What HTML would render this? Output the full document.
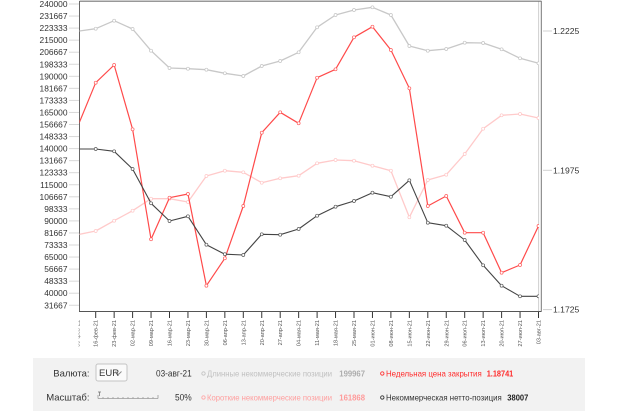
<!DOCTYPE html>
<html><head><meta charset="utf-8"><style>
html,body{margin:0;padding:0;background:#fff;}
svg{display:block;font-family:"Liberation Sans",Arial,sans-serif;}
</style></head><body>
<svg width="620" height="411" viewBox="0 0 620 411" xmlns="http://www.w3.org/2000/svg">
<defs>
<clipPath id="pc"><rect x="79.5" y="1" width="459.5" height="310"/></clipPath>
<clipPath id="lc"><rect x="78.6" y="312" width="470" height="40"/></clipPath>
<marker id="mg" markerUnits="userSpaceOnUse" markerWidth="6" markerHeight="6" refX="3" refY="3"><circle cx="3" cy="3" r="1.5" fill="#fff" stroke="#c4c4c4" stroke-width="0.7"/></marker>
<marker id="mp" markerUnits="userSpaceOnUse" markerWidth="6" markerHeight="6" refX="3" refY="3"><circle cx="3" cy="3" r="1.5" fill="#fff" stroke="#ffc6c6" stroke-width="0.7"/></marker>
<marker id="mr" markerUnits="userSpaceOnUse" markerWidth="6" markerHeight="6" refX="3" refY="3"><circle cx="3" cy="3" r="1.5" fill="#fff" stroke="#ff5a5a" stroke-width="0.7"/></marker>
<marker id="mb" markerUnits="userSpaceOnUse" markerWidth="6" markerHeight="6" refX="3" refY="3"><circle cx="3" cy="3" r="1.5" fill="#fff" stroke="#555" stroke-width="0.7"/></marker>
</defs>

<!-- left axis ticks and labels -->
<g stroke="#d8d8d8" stroke-width="1">
<line x1="69" y1="4" x2="79" y2="4"/><line x1="69" y1="16.05" x2="79" y2="16.05"/><line x1="69" y1="28.1" x2="79" y2="28.1"/><line x1="69" y1="40.15" x2="79" y2="40.15"/><line x1="69" y1="52.2" x2="79" y2="52.2"/><line x1="69" y1="64.25" x2="79" y2="64.25"/><line x1="69" y1="76.3" x2="79" y2="76.3"/><line x1="69" y1="88.35" x2="79" y2="88.35"/><line x1="69" y1="100.4" x2="79" y2="100.4"/><line x1="69" y1="112.45" x2="79" y2="112.45"/><line x1="69" y1="124.5" x2="79" y2="124.5"/><line x1="69" y1="136.55" x2="79" y2="136.55"/><line x1="69" y1="148.6" x2="79" y2="148.6"/><line x1="69" y1="160.65" x2="79" y2="160.65"/><line x1="69" y1="172.7" x2="79" y2="172.7"/><line x1="69" y1="184.75" x2="79" y2="184.75"/><line x1="69" y1="196.8" x2="79" y2="196.8"/><line x1="69" y1="208.85" x2="79" y2="208.85"/><line x1="69" y1="220.9" x2="79" y2="220.9"/><line x1="69" y1="232.95" x2="79" y2="232.95"/><line x1="69" y1="245" x2="79" y2="245"/><line x1="69" y1="257.05" x2="79" y2="257.05"/><line x1="69" y1="269.1" x2="79" y2="269.1"/><line x1="69" y1="281.15" x2="79" y2="281.15"/><line x1="69" y1="293.2" x2="79" y2="293.2"/><line x1="69" y1="305.25" x2="79" y2="305.25"/>
</g>
<g font-size="8.4" fill="#333" text-anchor="end">
<text x="67.5" y="7">240000</text><text x="67.5" y="19.05">231667</text><text x="67.5" y="31.1">223333</text><text x="67.5" y="43.15">215000</text><text x="67.5" y="55.2">206667</text><text x="67.5" y="67.25">198333</text><text x="67.5" y="79.3">190000</text><text x="67.5" y="91.35">181667</text><text x="67.5" y="103.4">173333</text><text x="67.5" y="115.45">165000</text><text x="67.5" y="127.5">156667</text><text x="67.5" y="139.55">148333</text><text x="67.5" y="151.6">140000</text><text x="67.5" y="163.65">131667</text><text x="67.5" y="175.7">123333</text><text x="67.5" y="187.75">115000</text><text x="67.5" y="199.8">106667</text><text x="67.5" y="211.85">98333</text><text x="67.5" y="223.9">90000</text><text x="67.5" y="235.95">81667</text><text x="67.5" y="248">73333</text><text x="67.5" y="260.05">65000</text><text x="67.5" y="272.1">56667</text><text x="67.5" y="284.15">48333</text><text x="67.5" y="296.2">40000</text><text x="67.5" y="308.25">31667</text>
</g>

<!-- right axis -->
<g stroke="#d0d0d0" stroke-width="1">
<line x1="543" y1="31" x2="552" y2="31"/><line x1="543" y1="170.3" x2="552" y2="170.3"/><line x1="543" y1="309.6" x2="552" y2="309.6"/>
</g>
<g font-size="8.6" fill="#333">
<text x="553" y="34">1.2225</text><text x="553" y="173.3">1.1975</text><text x="553" y="312.6">1.1725</text>
</g>

<!-- frame -->
<line x1="538.6" y1="1" x2="538.6" y2="311" stroke="#d0d0d0" stroke-width="1"/>
<line x1="79.5" y1="1.2" x2="541.5" y2="1.2" stroke="#777" stroke-width="1.2"/>
<line x1="79.5" y1="1" x2="79.5" y2="311.5" stroke="#666" stroke-width="1"/>
<line x1="541.3" y1="1" x2="541.3" y2="311.5" stroke="#777" stroke-width="1"/>
<line x1="79" y1="311.5" x2="541.5" y2="311.5" stroke="#555" stroke-width="1"/>

<!-- series -->
<g clip-path="url(#pc)" fill="none" stroke-linejoin="round">
<polyline stroke="#c8c8c8" stroke-width="1.3" marker-mid="url(#mg)" marker-end="url(#mg)" points="77.25,31.3 95.7,28.7 114.15,20.7 132.6,29 151.05,50.7 169.5,68 187.95,68.7 206.4,69.7 224.85,73.3 243.3,76 261.75,66 280.2,61 298.65,52.3 317.1,27.3 335.55,15 354,10 372.45,7.3 390.9,15 409.35,46 427.8,50.7 446.25,49 464.7,42.7 483.15,43 501.6,49.3 520.05,58.3 538.5,63.3"/>
<polyline stroke="#ffcaca" stroke-width="1.3" marker-mid="url(#mp)" marker-end="url(#mp)" points="77.25,234.8 95.7,231 114.15,220.7 132.6,210.7 151.05,198.7 169.5,198.7 187.95,202 206.4,176 224.85,170.7 243.3,172.3 261.75,182.7 280.2,178.3 298.65,175.7 317.1,163.3 335.55,160 354,160.7 372.45,165.7 390.9,170.7 409.35,217.3 427.8,180 446.25,174.7 464.7,154 483.15,128.7 501.6,115.3 520.05,114 538.5,118"/>
<polyline stroke="#ff4a4a" stroke-width="1.2" marker-mid="url(#mr)" marker-end="url(#mr)" points="77.25,127.5 95.7,82.7 114.15,65 132.6,129.3 151.05,239.3 169.5,197.7 187.95,194 206.4,285.7 224.85,258.3 243.3,206 261.75,132.7 280.2,112.3 298.65,123.3 317.1,77.7 335.55,69.3 354,37.3 372.45,26.7 390.9,50 409.35,88.3 427.8,206 446.25,196 464.7,232.7 483.15,232.7 501.6,272.7 520.05,265 538.5,226"/>
<polyline stroke="#444" stroke-width="1.1" marker-mid="url(#mb)" marker-end="url(#mb)" points="77.25,149 95.7,149 114.15,151.3 132.6,169 151.05,203.3 169.5,221 187.95,216.3 206.4,244.7 224.85,254.2 243.3,255 261.75,234.3 280.2,234.7 298.65,229 317.1,215.7 335.55,206.7 354,201 372.45,192.7 390.9,196.7 409.35,180.3 427.8,222.7 446.25,225.7 464.7,240 483.15,265.3 501.6,285.7 520.05,296.3 538.5,296.3"/>
</g>

<!-- x ticks -->
<g stroke="#333" stroke-width="1">
<line x1="95.7" y1="312" x2="95.7" y2="318"/><line x1="114.15" y1="312" x2="114.15" y2="318"/><line x1="132.6" y1="312" x2="132.6" y2="318"/><line x1="151.05" y1="312" x2="151.05" y2="318"/><line x1="169.5" y1="312" x2="169.5" y2="318"/><line x1="187.95" y1="312" x2="187.95" y2="318"/><line x1="206.4" y1="312" x2="206.4" y2="318"/><line x1="224.85" y1="312" x2="224.85" y2="318"/><line x1="243.3" y1="312" x2="243.3" y2="318"/><line x1="261.75" y1="312" x2="261.75" y2="318"/><line x1="280.2" y1="312" x2="280.2" y2="318"/><line x1="298.65" y1="312" x2="298.65" y2="318"/><line x1="317.1" y1="312" x2="317.1" y2="318"/><line x1="335.55" y1="312" x2="335.55" y2="318"/><line x1="354" y1="312" x2="354" y2="318"/><line x1="372.45" y1="312" x2="372.45" y2="318"/><line x1="390.9" y1="312" x2="390.9" y2="318"/><line x1="409.35" y1="312" x2="409.35" y2="318"/><line x1="427.8" y1="312" x2="427.8" y2="318"/><line x1="446.25" y1="312" x2="446.25" y2="318"/><line x1="464.7" y1="312" x2="464.7" y2="318"/><line x1="483.15" y1="312" x2="483.15" y2="318"/><line x1="501.6" y1="312" x2="501.6" y2="318"/><line x1="520.05" y1="312" x2="520.05" y2="318"/><line x1="538.5" y1="312" x2="538.5" y2="318"/>
</g>
<g font-size="5.6" fill="#555" text-anchor="end" clip-path="url(#lc)">
<text transform="translate(79.25,320) rotate(-90)">09-фев-21</text>
<text transform="translate(97.7,320) rotate(-90)">16-фев-21</text>
<text transform="translate(116.15,320) rotate(-90)">23-фев-21</text>
<text transform="translate(134.6,320) rotate(-90)">02-мар-21</text>
<text transform="translate(153.05,320) rotate(-90)">09-мар-21</text>
<text transform="translate(171.5,320) rotate(-90)">16-мар-21</text>
<text transform="translate(189.95,320) rotate(-90)">23-мар-21</text>
<text transform="translate(208.4,320) rotate(-90)">30-мар-21</text>
<text transform="translate(226.85,320) rotate(-90)">06-апр-21</text>
<text transform="translate(245.3,320) rotate(-90)">13-апр-21</text>
<text transform="translate(263.75,320) rotate(-90)">20-апр-21</text>
<text transform="translate(282.2,320) rotate(-90)">27-апр-21</text>
<text transform="translate(300.65,320) rotate(-90)">04-мая-21</text>
<text transform="translate(319.1,320) rotate(-90)">11-мая-21</text>
<text transform="translate(337.55,320) rotate(-90)">18-мая-21</text>
<text transform="translate(356,320) rotate(-90)">25-мая-21</text>
<text transform="translate(374.45,320) rotate(-90)">01-июн-21</text>
<text transform="translate(392.9,320) rotate(-90)">08-июн-21</text>
<text transform="translate(411.35,320) rotate(-90)">15-июн-21</text>
<text transform="translate(429.8,320) rotate(-90)">22-июн-21</text>
<text transform="translate(448.25,320) rotate(-90)">29-июн-21</text>
<text transform="translate(466.7,320) rotate(-90)">06-июл-21</text>
<text transform="translate(485.15,320) rotate(-90)">13-июл-21</text>
<text transform="translate(503.6,320) rotate(-90)">20-июл-21</text>
<text transform="translate(522.05,320) rotate(-90)">27-июл-21</text>
<text transform="translate(540.5,320) rotate(-90)">03-авг-21</text>
</g>

<!-- bottom panel -->
<rect x="33" y="358" width="552" height="53" fill="#f2f2f2"/>
<g font-size="9.5" fill="#333">
<text x="89.5" y="376.5" text-anchor="end">Валюта:</text>
<text x="89.5" y="400.5" text-anchor="end">Масштаб:</text>
</g>
<rect x="96" y="364" width="31" height="17" rx="2" fill="#fafafa" stroke="#c4c4c4" stroke-width="1"/>
<text x="99" y="376.2" font-size="9.5" fill="#333">EUR</text>
<polyline points="115.5,371.5 118.5,374.5 121.5,371.5" fill="none" stroke="#888" stroke-width="0.9"/>
<text x="156" y="376.5" font-size="9.5" fill="#333" textLength="35.7" lengthAdjust="spacingAndGlyphs">03-авг-21</text>

<!-- slider -->
<g stroke="#999" stroke-width="0.8" fill="none">
<line x1="98" y1="398.5" x2="158" y2="398.5"/>
<line x1="98" y1="395" x2="98" y2="398.5"/><line x1="158" y1="395" x2="158" y2="398.5"/>
<line x1="103" y1="397" x2="103" y2="398.5"/><line x1="108" y1="397" x2="108" y2="398.5"/><line x1="113" y1="397" x2="113" y2="398.5"/><line x1="118" y1="397" x2="118" y2="398.5"/><line x1="123" y1="397" x2="123" y2="398.5"/><line x1="128" y1="397" x2="128" y2="398.5"/><line x1="133" y1="397" x2="133" y2="398.5"/><line x1="138" y1="397" x2="138" y2="398.5"/><line x1="143" y1="397" x2="143" y2="398.5"/><line x1="148" y1="397" x2="148" y2="398.5"/><line x1="153" y1="397" x2="153" y2="398.5"/>
<line x1="99.5" y1="392" x2="99.5" y2="396" stroke="#777"/><line x1="98" y1="392" x2="101" y2="392" stroke="#777"/>
</g>
<text x="175" y="400.5" font-size="9.5" fill="#333" textLength="16.7" lengthAdjust="spacingAndGlyphs">50%</text>

<!-- legend -->
<circle cx="203.5" cy="373.5" r="1.7" fill="none" stroke="#c4c4c4" stroke-width="0.9"/>
<text x="207" y="376.3" font-size="8.2" fill="#c0c0c0" textLength="125" lengthAdjust="spacingAndGlyphs">Длинные некоммерческие позиции</text>
<text x="339.3" y="376.3" font-size="8.2" font-weight="bold" fill="#adadad" textLength="25.7" lengthAdjust="spacingAndGlyphs">199967</text>

<circle cx="203.5" cy="397.5" r="1.7" fill="none" stroke="#ffa8a8" stroke-width="0.9"/>
<text x="207" y="400.3" font-size="8.2" fill="#ffa0a0" textLength="125" lengthAdjust="spacingAndGlyphs">Короткие некоммерческие позиции</text>
<text x="339.3" y="400.3" font-size="8.2" font-weight="bold" fill="#ff9a9a" textLength="25.7" lengthAdjust="spacingAndGlyphs">161868</text>

<circle cx="382.3" cy="373.5" r="1.7" fill="none" stroke="#ff3333" stroke-width="0.9"/>
<text x="386" y="376.3" font-size="8.2" fill="#ff2a2a" textLength="95.7" lengthAdjust="spacingAndGlyphs">Недельная цена закрытия</text>
<text x="486.7" y="376.3" font-size="8.2" font-weight="bold" fill="#ff2a2a" textLength="26.6" lengthAdjust="spacingAndGlyphs">1.18741</text>

<circle cx="382.3" cy="397.5" r="1.7" fill="none" stroke="#333" stroke-width="0.9"/>
<text x="386" y="400.3" font-size="8.2" fill="#333" textLength="115.7" lengthAdjust="spacingAndGlyphs">Некоммерческая нетто-позиция</text>
<text x="507.3" y="400.3" font-size="8.2" font-weight="bold" fill="#222" textLength="21" lengthAdjust="spacingAndGlyphs">38007</text>
</svg>
</body></html>
